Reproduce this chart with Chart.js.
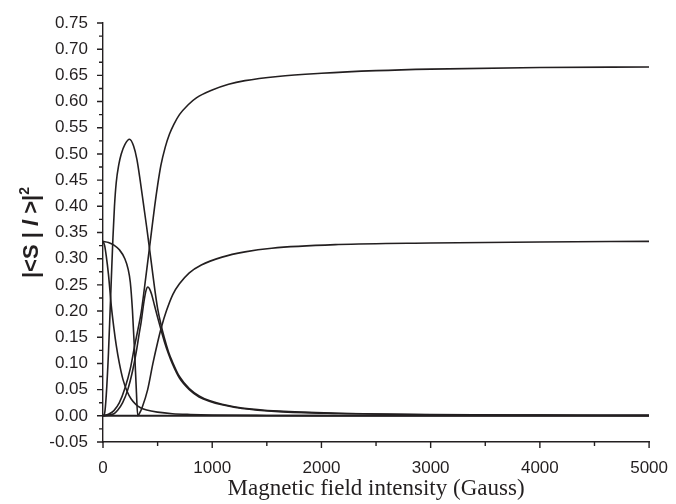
<!DOCTYPE html>
<html lang="en">
<head>
  <meta charset="UTF-8">
  <title>Singlet projections vs magnetic field</title>
  <script src="https://cdn.jsdelivr.net/npm/chart.js"></script>
  <style>
    html, body {
      margin: 0;
      padding: 0;
      background: #ffffff;
    }
    canvas {
      display: block;
    }
  </style>
</head>
<body>
  <canvas id="fieldChart" width="676" height="504"></canvas>

  <script>
    // tick positions
    const xMajorTicks = [0, 1000, 2000, 3000, 4000, 5000];
    const xMinorTicks = [500, 1500, 2500, 3500, 4500];
    const yMajorTicks = [-0.05, 0, 0.05, 0.1, 0.15, 0.2, 0.25, 0.3, 0.35, 0.4, 0.45, 0.5, 0.55, 0.6, 0.65, 0.7, 0.75];

    // rises to 2/3
    const riseHighField = [0, 50, 100, 150, 200, 250, 290, 320, 350, 380, 410, 440, 473, 500, 530, 570, 609, 650, 700, 780, 855, 1000, 1150, 1300, 1600, 2000, 2500, 3000, 4000, 5000];
    const riseHighValue = [0, 0.003, 0.01, 0.025, 0.052, 0.09, 0.134, 0.165, 0.198, 0.245, 0.295, 0.345, 0.40, 0.44, 0.478, 0.513, 0.538, 0.557, 0.575, 0.594, 0.607, 0.622, 0.633, 0.64, 0.648, 0.654, 0.659, 0.662, 0.665, 0.666];

    // starts at 1/3, goes through zero, back to 1/3
    const riseLowField = [0, 50, 100, 150, 200, 230, 250, 270, 290, 305, 318, 335, 360, 409, 457, 500, 536, 580, 640, 700, 790, 900, 1090, 1300, 1545, 2155, 3000, 4000, 5000];
    const riseLowValue = [0.333, 0.331, 0.326, 0.317, 0.30, 0.28, 0.255, 0.2, 0.12, 0.05, 0, 0.005, 0.017, 0.05, 0.10, 0.14, 0.17, 0.20, 0.232, 0.252, 0.273, 0.288, 0.303, 0.313, 0.320, 0.327, 0.330, 0.332, 0.333];

    // fast decay from 1/3
    const decayField = [0, 15, 30, 50, 76, 100, 121, 150, 182, 220, 258, 300, 348, 400, 500, 636, 800, 1000, 1500, 2000, 3000, 5000];
    const decayValue = [0.333, 0.325, 0.305, 0.27, 0.21, 0.167, 0.135, 0.1, 0.07, 0.047, 0.032, 0.022, 0.015, 0.011, 0.007, 0.004, 0.0025, 0.0015, 0.0007, 0.0004, 0.0002, 0.0001];

    // big peak near 240 G
    const bigPeakField = [0, 15, 30, 50, 65, 76, 91, 105, 121, 145, 167, 200, 243, 280, 310, 340, 370, 400, 424, 450, 475, 500, 530, 560, 600, 636, 700, 790, 880, 973, 1090, 1273, 1610, 2155, 3000, 4000, 5000];
    const bigPeakValue = [0, 0.005, 0.04, 0.12, 0.2, 0.26, 0.34, 0.4, 0.445, 0.48, 0.5, 0.518, 0.528, 0.515, 0.49, 0.45, 0.405, 0.36, 0.322, 0.28, 0.24, 0.205, 0.175, 0.15, 0.122, 0.103, 0.075, 0.052, 0.038, 0.029, 0.022, 0.015, 0.009, 0.005, 0.0025, 0.0015, 0.001];

    // small peak near 410 G
    const smallPeakField = [0, 100, 136, 180, 227, 270, 303, 330, 350, 375, 395, 410, 425, 445, 470, 500, 530, 560, 600, 636, 700, 790, 880, 973, 1090, 1273, 1610, 2155, 3000, 4000, 5000];
    const smallPeakValue = [0, 0.004, 0.011, 0.025, 0.05, 0.085, 0.12, 0.155, 0.18, 0.218, 0.24, 0.246, 0.243, 0.232, 0.212, 0.188, 0.165, 0.143, 0.118, 0.099, 0.072, 0.05, 0.036, 0.028, 0.021, 0.014, 0.008, 0.0045, 0.002, 0.0013, 0.0008];

    // states that stay at zero
    const zeroField = [0, 5000];
    const zeroValue = [0, 0];

    const ink = '#231f20';
    const sans = '"Liberation Sans", Arial, sans-serif';

    function toPoints(fields, values) {
      return fields.map((f, i) => ({ x: f, y: values[i] }));
    }

    function curve(fields, values, width) {
      return {
        data: toPoints(fields, values),
        borderColor: ink,
        borderWidth: width || 1.6,
        pointRadius: 0,
        fill: false,
        cubicInterpolationMode: 'monotone'
      };
    }

    // tick marks, short ones between labels, plus the y title
    const tickMarks = {
      id: 'tickMarks',
      afterDraw(chart) {
        const ctx = chart.ctx;
        const xs = chart.scales.x;
        const ys = chart.scales.y;
        const axisY = ys.getPixelForValue(-0.05);
        const axisX = xs.getPixelForValue(0);
        ctx.save();
        ctx.strokeStyle = ink;
        ctx.lineWidth = 1.4;
        ctx.beginPath();
        xMajorTicks.forEach(v => {
          const px = xs.getPixelForValue(v);
          ctx.moveTo(px, axisY);
          ctx.lineTo(px, axisY + 6);
        });
        xMinorTicks.forEach(v => {
          const px = xs.getPixelForValue(v);
          ctx.moveTo(px, axisY);
          ctx.lineTo(px, axisY + 4);
        });
        yMajorTicks.forEach(v => {
          const py = ys.getPixelForValue(v);
          ctx.moveTo(axisX, py);
          ctx.lineTo(axisX - 6, py);
          if (v < 0.75) {
            const pm = ys.getPixelForValue(v + 0.025);
            ctx.moveTo(axisX, pm);
            ctx.lineTo(axisX - 4, pm);
          }
        });
        ctx.stroke();

        const parts = [
          { t: '|<S | ', f: 'bold 22px ' + sans, dy: 0 },
          { t: 'l', f: 'italic bold 22px ' + sans, dy: 0 },
          { t: ' >|', f: 'bold 22px ' + sans, dy: 0 },
          { t: '2', f: 'bold 14px ' + sans, dy: -9 }
        ];
        let total = 0;
        parts.forEach(p => { ctx.font = p.f; p.w = ctx.measureText(p.t).width; total += p.w; });
        const midY = (chart.chartArea.top + chart.chartArea.bottom) / 2;
        ctx.translate(38, midY);
        ctx.rotate(-Math.PI / 2);
        ctx.fillStyle = ink;
        ctx.textBaseline = 'alphabetic';
        let cx = -total / 2;
        parts.forEach(p => {
          ctx.font = p.f;
          ctx.fillText(p.t, cx, p.dy);
          cx += p.w;
        });
        ctx.restore();
      }
    };

    const ctx = document.getElementById('fieldChart').getContext('2d');

    new Chart(ctx, {
      type: 'line',
      data: {
        datasets: [
          curve(zeroField, zeroValue, 2),
          curve(decayField, decayValue),
          curve(smallPeakField, smallPeakValue),
          curve(bigPeakField, bigPeakValue),
          curve(riseLowField, riseLowValue),
          curve(riseHighField, riseHighValue)
        ]
      },
      options: {
        responsive: false,
        animation: false,
        devicePixelRatio: 1,
        layout: {
          padding: { left: 0, top: 23, right: 23, bottom: 0 }
        },
        plugins: {
          legend: { display: false },
          tooltip: { enabled: false }
        },
        scales: {
          x: {
            type: 'linear',
            min: 0,
            max: 5000,
            grid: { display: false },
            border: { display: true, color: ink, width: 1.4 },
            ticks: {
              stepSize: 1000,
              autoSkip: false,
              color: ink,
              padding: 8,
              maxRotation: 0,
              font: { family: sans, size: 17 },
              callback: v => String(v)
            },
            title: {
              display: true,
              text: 'Magnetic field intensity (Gauss)',
              color: ink,
              padding: { top: 0, bottom: 1 },
              font: { family: '"Liberation Serif", "Times New Roman", serif', size: 23 }
            },
            afterFit(scale) { scale.height = 62; }
          },
          y: {
            min: -0.05,
            max: 0.75,
            grid: { display: false },
            border: { display: true, color: ink, width: 1.4 },
            ticks: {
              stepSize: 0.05,
              autoSkip: false,
              color: ink,
              padding: 7,
              font: { family: sans, size: 17 },
              callback: v => v.toFixed(2)
            },
            afterFit(scale) { scale.width = 103; }
          }
        }
      },
      plugins: [tickMarks]
    });
  </script>
</body>
</html>
